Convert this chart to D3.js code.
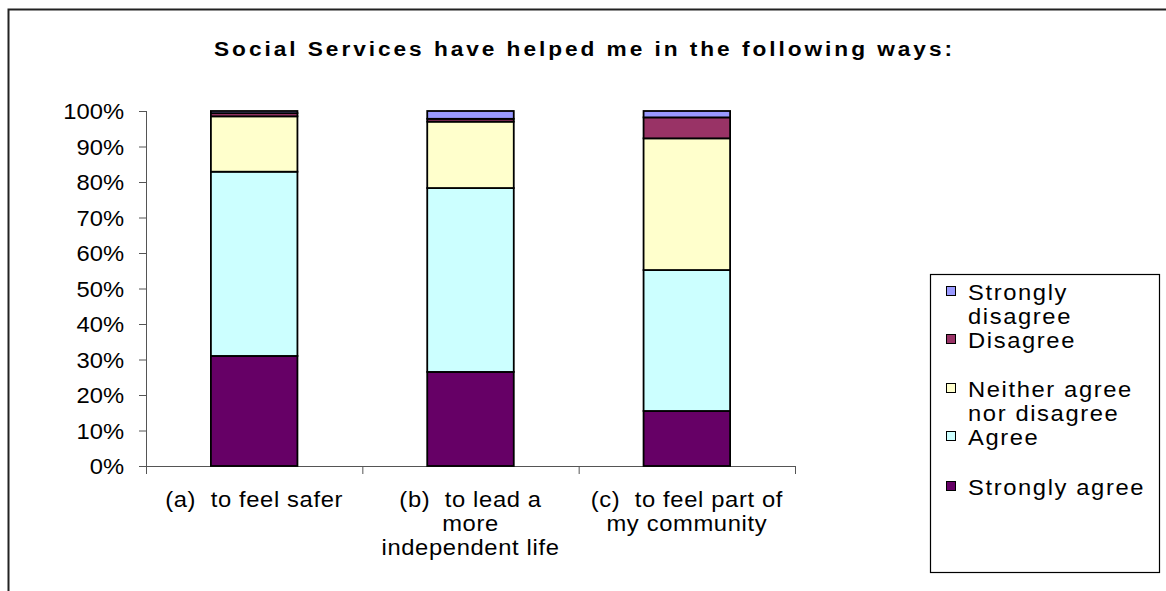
<!DOCTYPE html>
<html>
<head>
<meta charset="utf-8">
<script src="https://cdn.jsdelivr.net/npm/d3@7"></script>
<style>
  html, body { margin: 0; padding: 0; background: #fff; }
  svg { display: block; font-family: "Liberation Sans", Arial, sans-serif; }
  .cat { white-space: pre; }
</style>
</head>
<body>
<svg id="chart" width="1166" height="591"></svg>
<script>
// Survey responses, percent of respondents per statement
const categories = [
  ["(a)  to feel safer"],
  ["(b)  to lead a", "more", "independent life"],
  ["(c)  to feel part of", "my community"]
];
const seriesNames = ["Strongly agree", "Agree", "Neither agree nor disagree", "Disagree", "Strongly disagree"];
const stronglyAgree    = [31.0, 26.5, 15.5];
const agree            = [51.9, 51.8, 39.7];
const neither          = [15.6, 18.7, 37.1];
const disagree         = [0.9, 0.8, 5.9];
const stronglyDisagree = [0.6, 2.2, 1.8];
const yTicks = [0, 10, 20, 30, 40, 50, 60, 70, 80, 90, 100];
const colors = ["#660066", "#CCFFFF", "#FFFFCC", "#993366", "#9999FF"];
const legendLines = [
  ["Strongly", "disagree"],
  ["Disagree"],
  ["Neither agree", "nor disagree"],
  ["Agree"],
  ["Strongly agree"]
];

// text is drawn slightly widened, like the original office chart rendering
const SX = 1.08;

const svg = d3.select("#chart");

// outer chart frame (runs off the right and bottom edges)
svg.append("rect")
  .attr("x", 8.5).attr("y", 9.5)
  .attr("width", 1200).attr("height", 700)
  .attr("fill", "#fff").attr("stroke", "#222").attr("stroke-width", 2);

svg.append("text")
  .attr("transform", `translate(583,56) scale(${SX},1)`)
  .attr("text-anchor", "middle")
  .attr("font-size", 21).attr("font-weight", "bold")
  .attr("textLength", 738 / SX).attr("lengthAdjust", "spacing")
  .text("Social Services have helped me in the following ways:");

const plotL = 146, plotR = 795, plotT = 111, plotB = 466;

const x = d3.scaleBand().domain(d3.range(categories.length)).range([plotL, plotR]).paddingInner(0.6).paddingOuter(0.3);
const xb = d3.scaleBand().domain(d3.range(categories.length)).range([plotL, plotR]);
const y = d3.scaleLinear().domain([0, 100]).range([plotB, plotT]);

const rows = d3.range(categories.length).map(i => ({
  i,
  "Strongly agree": stronglyAgree[i],
  "Agree": agree[i],
  "Neither agree nor disagree": neither[i],
  "Disagree": disagree[i],
  "Strongly disagree": stronglyDisagree[i]
}));
const stacked = d3.stack().keys(seriesNames)(rows);

// y axis
const yAxis = d3.axisLeft(y).tickValues(yTicks).tickFormat(d => d + "%").tickSize(7).tickSizeOuter(0);
const gy = svg.append("g").attr("transform", `translate(${plotL},0)`).call(yAxis);
gy.select(".domain").attr("stroke", "#555").attr("d", `M0.5,${plotT}V${plotB + 8}`);
gy.selectAll(".tick line").attr("stroke", "#555");
gy.selectAll(".tick text")
  .attr("font-size", 22).attr("fill", "#000")
  .attr("font-family", "Liberation Sans, Arial, sans-serif")
  .attr("x", -22 / SX).attr("dy", "0.36em")
  .attr("transform", `scale(${SX},1)`);

// x axis with ticks at category boundaries
svg.append("line").attr("x1", plotL).attr("x2", plotR).attr("y1", plotB + 0.5).attr("y2", plotB + 0.5).attr("stroke", "#555");
const bounds = d3.range(categories.length + 1).map(k => k < categories.length ? xb(k) : plotR);
svg.selectAll(".xtick").data(bounds).join("line")
  .attr("x1", d => d + 0.5).attr("x2", d => d + 0.5)
  .attr("y1", plotB).attr("y2", plotB + 8).attr("stroke", "#555");

// stacked bars
svg.append("g").selectAll("g").data(stacked).join("g")
  .attr("fill", (d, k) => colors[k])
  .selectAll("rect").data(d => d).join("rect")
  .attr("x", d => x(d.data.i))
  .attr("width", x.bandwidth())
  .attr("y", d => y(d[1]))
  .attr("height", d => y(d[0]) - y(d[1]))
  .attr("stroke", "#000").attr("stroke-width", 1.8);

// category labels (double space after the letter is kept)
const cl = svg.append("g").selectAll("text").data(categories).join("text")
  .attr("class", "cat")
  .attr("text-anchor", "middle").attr("font-size", 22).attr("fill", "#000")
  .attr("letter-spacing", 0.6)
  .attr("transform", (d, i) => `translate(${xb(i) + xb.bandwidth() / 2},507) scale(${SX},1)`);
cl.selectAll("tspan").data(d => d).join("tspan")
  .attr("x", 0).attr("dy", (d, j) => j === 0 ? 0 : 24).text(d => d);

// legend
const lg = svg.append("g");
lg.append("rect").attr("x", 930.5).attr("y", 274.5).attr("width", 229).attr("height", 298)
  .attr("fill", "#fff").attr("stroke", "#000").attr("stroke-width", 1.2);
const legendY = [292, 340, 389, 437, 487];
const legendOrder = [4, 3, 2, 1, 0];
legendOrder.forEach((k, n) => {
  const g = lg.append("g").attr("transform", `translate(0,${legendY[n]})`);
  g.append("rect").attr("x", 946.5).attr("y", -5.5).attr("width", 9).attr("height", 9)
    .attr("fill", colors[k]).attr("stroke", "#000");
  const t = g.append("text").attr("font-size", 22).attr("fill", "#000").attr("letter-spacing", 1.5)
    .attr("transform", `translate(968,0) scale(${SX},1)`);
  t.selectAll("tspan").data(legendLines[n]).join("tspan")
    .attr("x", 0).attr("dy", (d, j) => j === 0 ? "0.36em" : 24).text(d => d);
});
</script>
</body>
</html>
